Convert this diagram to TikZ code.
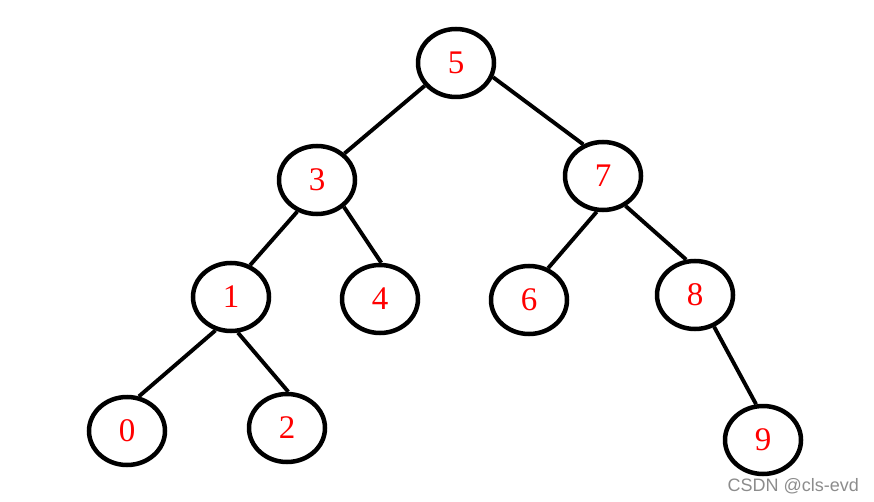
\documentclass[tikz,border=0pt]{standalone}
\usepackage{fontspec}
\setmainfont{Liberation Serif}
\newfontfamily\wmfont{Liberation Sans}
\usetikzlibrary{shapes.geometric}
\begin{document}
\begin{tikzpicture}[x=1pt,y=-1pt,
  treenode/.style={ellipse,draw=black,line width=4.5pt,minimum width=76pt,minimum height=68pt,inner sep=0pt,
    text=red,font=\fontsize{33}{33}\selectfont},
  edge/.style={line width=3.9pt,black}]
\useasboundingbox (0,0) rectangle (874,502);
\node[treenode] (n5) at (456,63) {\raisebox{-3pt}{5}};
\node[treenode] (n3) at (317,180) {\raisebox{-3pt}{3}};
\node[treenode] (n7) at (603,176) {\raisebox{-3pt}{7}};
\node[treenode] (n1) at (231,297) {\raisebox{-3pt}{1}};
\node[treenode] (n4) at (380,299) {\raisebox{-3pt}{4}};
\node[treenode] (n6) at (529,300) {\raisebox{-3pt}{6}};
\node[treenode] (n8) at (695,295) {\raisebox{-3pt}{8}};
\node[treenode] (n0) at (127,431) {\raisebox{-3pt}{0}};
\node[treenode] (n2) at (287,428) {\raisebox{-3pt}{2}};
\node[treenode] (n9) at (763,440) {\raisebox{-3pt}{9}};
\draw[edge] (n5.216) -- (n3.44);
\draw[edge] (n5.339) -- (n7.122);
\draw[edge] (n3.238) -- (n1.59);
\draw[edge] (n3.315) -- (n4.88);
\draw[edge] (n7.260) -- (n6.59);
\draw[edge] (n7.307) -- (n8.104);
\draw[edge] (n1.245) -- (n0.71);
\draw[edge] (n1.281) -- (n2.88);
\draw[edge] (n8.301) -- (n9.101);
\node[anchor=east,text=black!45,font=\wmfont\fontsize{18}{18}\selectfont,inner sep=0pt] (wm) at (859,486) {CSDN @cls-evd};
\end{tikzpicture}
\end{document}
